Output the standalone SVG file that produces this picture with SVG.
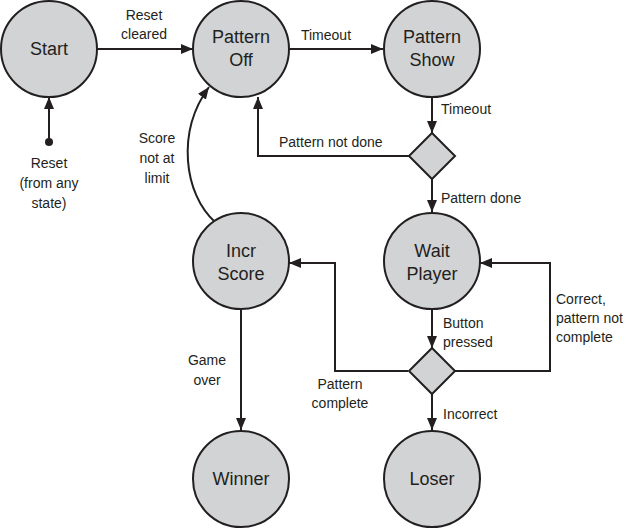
<svg xmlns="http://www.w3.org/2000/svg" width="627" height="529" viewBox="0 0 627 529">
<style>
.node{fill:#d1d3d4;stroke:#231f20;stroke-width:2}
.nt{font-family:"Liberation Sans",Arial,sans-serif;font-size:18px;fill:#231f20;text-anchor:middle}
.lb{font-family:"Liberation Sans",Arial,sans-serif;font-size:14px;fill:#231f20}
.c{text-anchor:middle}
.ln{fill:none;stroke:#231f20;stroke-width:2}
</style>
<defs>
<marker id="arr" markerWidth="12" markerHeight="10" refX="12" refY="5" orient="auto" markerUnits="userSpaceOnUse">
<path d="M0,0 L12,5 L0,10 Z" fill="#231f20"/>
</marker>
</defs>
<rect width="627" height="529" fill="#ffffff"/>
<g id="connectors">
<path class="ln" d="M97,49 H193" marker-end="url(#arr)"/>
<circle cx="49" cy="142" r="4" fill="#231f20"/>
<path class="ln" d="M49,142 V97" marker-end="url(#arr)"/>
<path class="ln" d="M289,49 H383" marker-end="url(#arr)"/>
<path class="ln" d="M432,97 V133" marker-end="url(#arr)"/>
<path class="ln" d="M409,156 H258 V97" marker-end="url(#arr)"/>
<path class="ln" d="M432,178 V212" marker-end="url(#arr)"/>
<path class="ln" d="M215,222 C184,194 176,132 209,87" marker-end="url(#arr)"/>
<path class="ln" d="M432,309 V348" marker-end="url(#arr)"/>
<path class="ln" d="M408,371 H335 V263 H289" marker-end="url(#arr)"/>
<path class="ln" d="M455,371 H550 V263 H480" marker-end="url(#arr)"/>
<path class="ln" d="M241,309 V430" marker-end="url(#arr)"/>
<path class="ln" d="M432,394 V430" marker-end="url(#arr)"/>
<text class="lb c" x="144" y="20">Reset</text>
<text class="lb c" x="144" y="39">cleared</text>
<text class="lb c" x="49" y="168">Reset</text>
<text class="lb c" x="49" y="188">(from any</text>
<text class="lb c" x="49" y="208">state)</text>
<text class="lb c" x="326" y="40">Timeout</text>
<text class="lb" x="441" y="114">Timeout</text>
<text class="lb" x="279" y="147">Pattern not done</text>
<text class="lb" x="441" y="203">Pattern done</text>
<text class="lb c" x="157" y="143">Score</text>
<text class="lb c" x="157" y="163">not at</text>
<text class="lb c" x="157" y="183">limit</text>
<text class="lb" x="443" y="328">Button</text>
<text class="lb" x="443" y="347">pressed</text>
<text class="lb" x="556" y="304">Correct,</text>
<text class="lb" x="556" y="323">pattern not</text>
<text class="lb" x="556" y="342">complete</text>
<text class="lb c" x="207" y="365">Game</text>
<text class="lb c" x="207" y="385">over</text>
<text class="lb c" x="340" y="389">Pattern</text>
<text class="lb c" x="340" y="408">complete</text>
<text class="lb" x="443" y="419">Incorrect</text>
</g>
<g id="start"><circle class="node" cx="49" cy="49" r="48"/><text class="nt" x="49" y="55">Start</text></g>
<g id="pattern-off"><circle class="node" cx="241" cy="49" r="48"/><text class="nt" x="241" y="43">Pattern</text><text class="nt" x="241" y="66">Off</text></g>
<g id="pattern-show"><circle class="node" cx="432" cy="49" r="48"/><text class="nt" x="432" y="43">Pattern</text><text class="nt" x="432" y="66">Show</text></g>
<g id="decision-1"><path class="node" d="M432,133 L455,156 L432,179 L409,156 Z"/></g>
<g id="wait-player"><circle class="node" cx="432" cy="261" r="48"/><text class="nt" x="432" y="257">Wait</text><text class="nt" x="432" y="280">Player</text></g>
<g id="incr-score"><circle class="node" cx="241" cy="261" r="48"/><text class="nt" x="241" y="257">Incr</text><text class="nt" x="241" y="280">Score</text></g>
<g id="decision-2"><path class="node" d="M432,348 L455,371 L432,394 L409,371 Z"/></g>
<g id="winner"><circle class="node" cx="241" cy="479" r="48"/><text class="nt" x="241" y="485">Winner</text></g>
<g id="loser"><circle class="node" cx="432" cy="479" r="48"/><text class="nt" x="432" y="485">Loser</text></g>
</svg>
